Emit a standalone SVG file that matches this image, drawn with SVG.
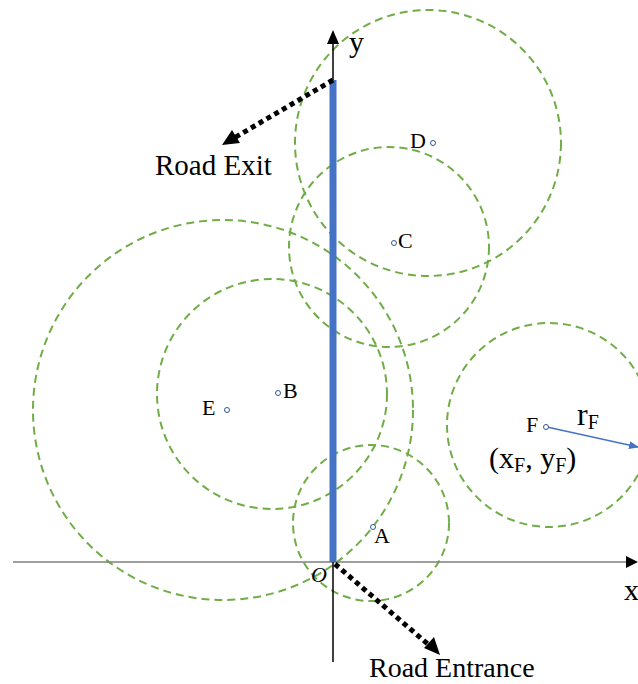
<svg xmlns="http://www.w3.org/2000/svg" width="638" height="684" viewBox="0 0 638 684">
<style>
.c{fill:none;stroke:#70AD47;stroke-width:2;stroke-dasharray:8 5}
.pt{fill:#fff;stroke:#2F5597;stroke-width:1}
.t{font-family:"Liberation Serif",serif;fill:#000}
.lb{font-size:22px}
.dot{fill:none;stroke:#000;stroke-width:5;stroke-dasharray:5 4}
</style>
<defs>
<marker id="bh" markerWidth="10" markerHeight="8" refX="9" refY="4" orient="auto" markerUnits="userSpaceOnUse"><path d="M0,0L10,4L0,8z" fill="#4472C4"/></marker>
</defs>
<g id="circles">
<circle id="circleD" class="c" cx="428" cy="143" r="133"/>
<circle id="circleC" class="c" cx="389" cy="247" r="100"/>
<circle id="circleB" class="c" cx="272" cy="394" r="115"/>
<circle id="circleE" class="c" cx="223" cy="410" r="190"/>
<circle id="circleA" class="c" cx="371" cy="523" r="78"/>
<circle id="circleF" class="c" cx="549" cy="425" r="102"/>
</g>
<g id="axes">
<line x1="13" y1="562" x2="630" y2="562" stroke="#7F7F7F" stroke-width="1.5"/>
<path d="M638,562L626,556L626,568z" fill="#000"/>
<line x1="333" y1="662" x2="333" y2="42" stroke="#000" stroke-width="1.5"/>
<path d="M333,30L327,44L339,44z" fill="#000"/>
<text class="t" x="349" y="52" font-size="30">y</text>
<text class="t" x="624" y="600" font-size="30">x</text>
<text class="t" x="311" y="582" font-size="22" font-style="italic">O</text>
</g>
<g id="road">
<line x1="333" y1="80" x2="333" y2="562" stroke="#4472C4" stroke-width="7"/>
</g>
<g id="connectors">
<line class="dot" x1="333" y1="80" x2="234" y2="138"/>
<path d="M222,145L232,130L240,143z" fill="#000"/>
<line class="dot" x1="335" y1="564" x2="430" y2="646"/>
<path d="M440,655L424,648L434,637z" fill="#000"/>
<line x1="547" y1="427" x2="638" y2="447" stroke="#4472C4" stroke-width="1.5" marker-end="url(#bh)"/>
</g>
<g id="labels">
<text class="t" x="155" y="175" font-size="29">Road Exit</text>
<text class="t" x="369" y="677" font-size="28">Road Entrance</text>
</g>
<g id="pointD"><circle class="pt" cx="433" cy="143" r="2.5"/><text class="t lb" x="410" y="148">D</text></g>
<g id="pointC"><circle class="pt" cx="394" cy="243" r="2.5"/><text class="t lb" x="398" y="248">C</text></g>
<g id="pointB"><circle class="pt" cx="278" cy="393" r="2.5"/><text class="t lb" x="283" y="398">B</text></g>
<g id="pointE"><circle class="pt" cx="227" cy="410" r="2.5"/><text class="t lb" x="202" y="415">E</text></g>
<g id="pointA"><circle class="pt" cx="373" cy="527" r="2.5"/><text class="t lb" x="374" y="543">A</text></g>
<g id="pointF"><circle class="pt" cx="546" cy="427" r="2.5"/><text class="t lb" x="526" y="432">F</text>
<text class="t" x="577" y="425" font-size="32">r<tspan font-size="20" dy="4">F</tspan></text>
<text class="t" x="489" y="468" font-size="30">(x<tspan font-size="20" dy="4">F</tspan><tspan dy="-4">, y</tspan><tspan font-size="20" dy="4">F</tspan><tspan dy="-4">)</tspan></text>
</g>
</svg>
